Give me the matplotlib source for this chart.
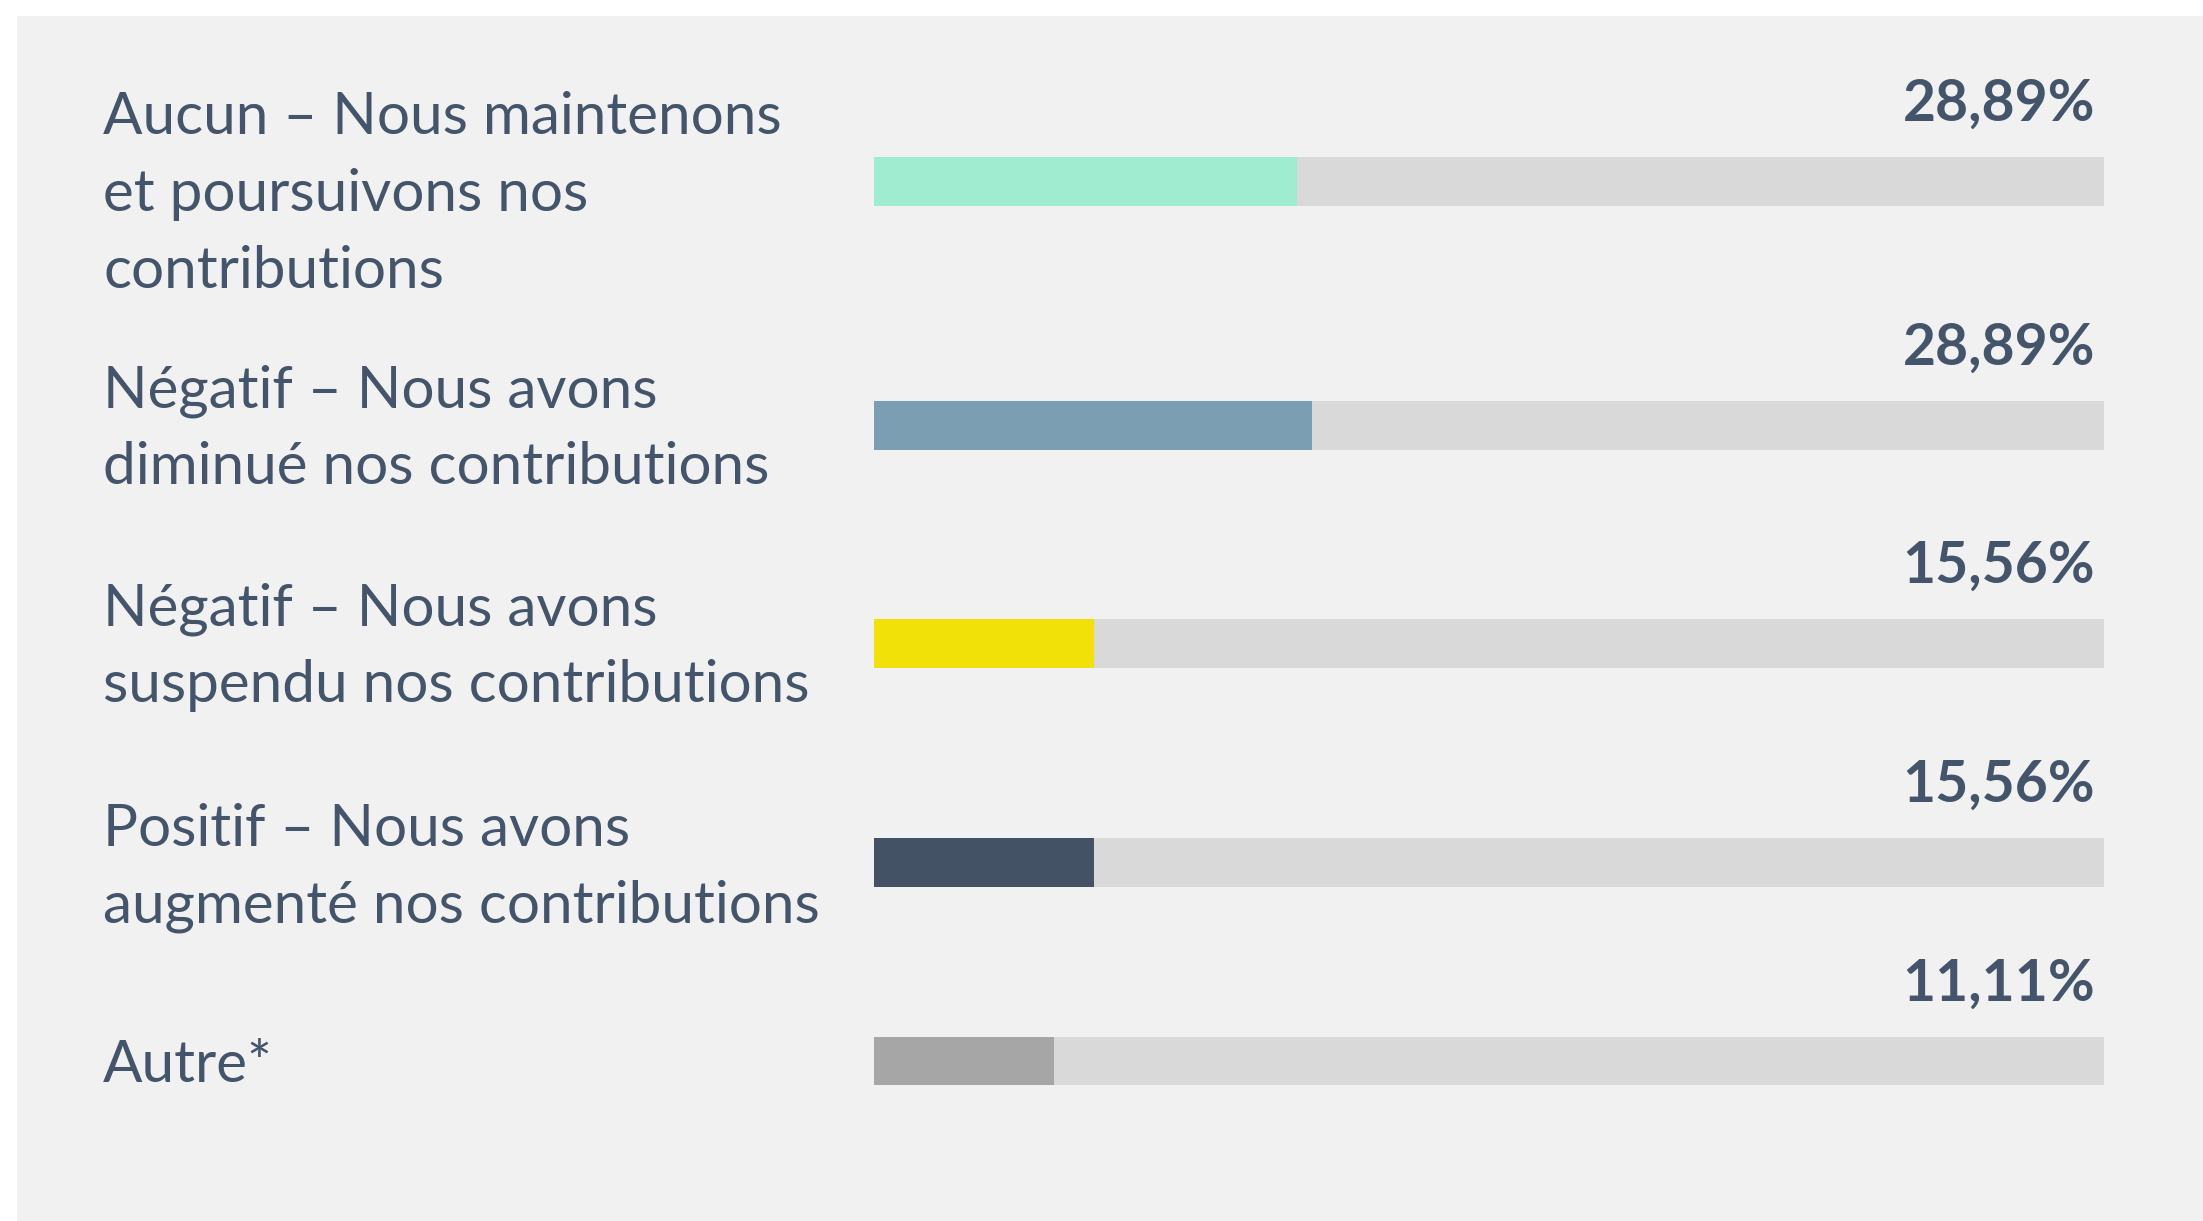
import matplotlib.pyplot as plt
from matplotlib.patches import Rectangle

categories = [
    "Aucun – Nous maintenons\net poursuivons nos\ncontributions",
    "Négatif – Nous avons\ndiminué nos contributions",
    "Négatif – Nous avons\nsuspendu nos contributions",
    "Positif – Nous avons\naugmenté nos contributions",
    "Autre*",
]
value_labels = ["28,89%", "28,89%", "15,56%", "15,56%", "11,11%"]
# filled share of each grey track (track = 100)
fill = [34.4, 35.6, 17.9, 17.9, 14.6]
colors = ["#a0ecd0", "#7b9eb2", "#f2e009", "#435365", "#a6a6a6"]

text_color = "#44546a"
track_color = "#d9d9d9"
W, H = 2203, 1221

# layout in pixels
bar_x0, bar_x1 = 874, 2104
bar_y = [181.4, 425.4, 643.3, 862.3, 1061.0]
bar_h = 48.6
label_base = [134.5, 407.5, 626.0, 846.0, 1082.5]
line_step = 76.5

fig = plt.figure(figsize=(W / 100, H / 100), dpi=100)
fig.patch.set_facecolor("white")
fig.add_artist(Rectangle((17 / W, 0), 1, 1 - 16 / H, transform=fig.transFigure,
                         facecolor="#f1f1f1", edgecolor="none", zorder=-10))

ax = fig.add_axes([bar_x0 / W, 0, (bar_x1 - bar_x0) / W, 1])
ax.set_xlim(0, 100)
ax.set_ylim(H, 0)
ax.axis("off")

ax.barh(bar_y, [100] * len(bar_y), height=bar_h, color=track_color, linewidth=0)
ax.barh(bar_y, fill, height=bar_h, color=colors, linewidth=0)

px = 100 / (bar_x1 - bar_x0)  # data units per pixel
for y, lab in zip(bar_y, value_labels):
    ax.text(100 - 9 * px, y - bar_h / 2 - 36, lab, ha="right", va="baseline",
            fontsize=41, fontweight="bold", color=text_color, family="Lato")

for base, cat in zip(label_base, categories):
    for i, line in enumerate(cat.split("\n")):
        ax.text((103 - bar_x0) * px, base + i * line_step, line, ha="left", va="baseline",
                fontsize=42, color=text_color, family="Lato", clip_on=False)

fig.savefig("out.png", dpi=100, facecolor=fig.get_facecolor())
